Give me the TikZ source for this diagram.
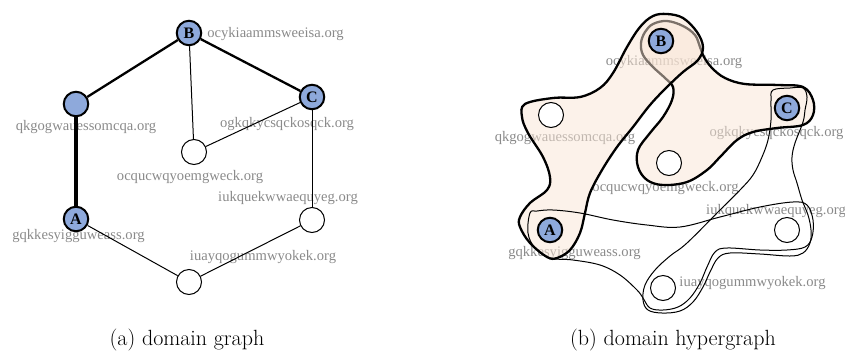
\documentclass[tikz,border=0pt]{standalone}
\usepackage{fontspec}
\newfontfamily\lblfont{Liberation Serif}
\definecolor{nodeblue}{HTML}{8EA9DB}
\definecolor{labelgray}{HTML}{8A8A8A}
\definecolor{hyperfill}{HTML}{F9E5D5}
\pgfdeclarelayer{lbls}
\pgfdeclarelayer{edges}
\pgfsetlayers{lbls,edges,main}
\begin{document}
\begin{tikzpicture}[x=1pt,y=-1pt,
  named/.style={circle,draw,line width=2pt,fill=nodeblue,minimum size=24.5pt,inner sep=0pt,font=\lblfont\bfseries\fontsize{16}{16}\selectfont},
  plain/.style={circle,draw,line width=1pt,fill=white,minimum size=25pt,inner sep=0pt},
  lbl/.style={text=labelgray,font=\lblfont\fontsize{14.6}{16}\selectfont,inner sep=0pt},
  heavy/.style={line width=2.3pt},
  heavier/.style={line width=3.5pt},
  light/.style={line width=1pt},
  hthick/.style={line width=2.3pt,fill=hyperfill,fill opacity=0.5,draw opacity=1},
  hthin/.style={line width=1pt},
  caption/.style={font=\fontsize{22}{26}\selectfont,inner sep=0pt}
]
\useasboundingbox (0,0) rectangle (845,351);

% ---------- (a) domain graph ----------
\node[named] (B) at (189,33) {B};
\node[named] (L) at (76,104) {};
\node[named] (C) at (312,97) {C};
\node[plain] (M) at (194,152) {};
\node[named] (A) at (76,219) {A};
\node[plain] (R) at (312,220) {};
\node[plain] (D) at (189,282) {};

\begin{pgfonlayer}{lbls}
\node[lbl] (lB) at (275.5,34) {ocykiaammsweeisa.org};
\node[lbl] (lL) at (86,127) {qkgogwauessomcqa.org};
\node[lbl] (lC) at (287,124) {ogkqkycsqckosqck.org};
\node[lbl] (lM) at (190,177) {ocqucwqyoemgweck.org};
\node[lbl] (lR) at (288,198) {iukquekwwaequyeg.org};
\node[lbl] (lA) at (78.5,236) {gqkkesyigguweass.org};
\node[lbl] (lD) at (263,257) {iuayqogummwyokek.org};
\end{pgfonlayer}

\begin{pgfonlayer}{edges}
\draw[heavy] (B) -- (L);
\draw[heavier] (L) -- (A);
\draw[heavy] (B) -- (C);
\draw[light] (B) -- (M);
\draw[light] (C) -- (M);
\draw[light] (C) -- (R);
\draw[light] (R) -- (D);
\draw[light] (A) -- (D);
\end{pgfonlayer}

% ---------- (b) domain hypergraph ----------
\node[named] (hB) at (661,41) {B};
\node[plain] (hL) at (551,115) {};
\node[named] (hC) at (787,108) {C};
\node[plain] (hM) at (669,163) {};
\node[named] (hA) at (550,230) {A};
\node[plain] (hR) at (787,230) {};
\node[plain] (hD) at (663,288) {};

\begin{pgfonlayer}{lbls}
\node[lbl] (hlB) at (674,62) {ocykiaammsweeisa.org};
\node[lbl] (hlL) at (565,138) {qkgogwauessomcqa.org};
\node[lbl] (hlC) at (776.5,133) {ogkqkycsqckosqck.org};
\node[lbl] (hlM) at (665.5,188) {ocqucwqyoemgweck.org};
\node[lbl] (hlR) at (776,211) {iukquekwwaequyeg.org};
\node[lbl] (hlA) at (574.5,253) {gqkkesyigguweass.org};
\node[lbl] (hlD) at (752.5,283) {iuayqogummwyokek.org};
\end{pgfonlayer}

\begin{pgfonlayer}{edges}
% hyperedge {B, C, M}
\draw[hthick] plot[smooth cycle, tension=0.6] coordinates {
 (673,87) (665,78) (653,67) (643,55) (641,43) (645,32) (653,24) (667,21)
 (683,26) (695,35) (700,47) (704,57) (712,68) (725,78) (745,84) (778,85)
 (803,87) (813,100) (813,115) (803,125) (777,128) (753,132) (737,140)
 (720,157) (707,170) (687,182) (663,185) (647,180) (638,167) (638,150)
 (650,133) (663,117) (672,100)};

% hyperedge {B, L, A}
\draw[hthick] plot[smooth cycle, tension=0.6] coordinates {
 (653,16) (667,14) (683,18) (697,32) (703,47) (698,60) (683,72) (667,87)
 (650,105) (633,127) (617,147) (602,170) (590,193) (585,213) (580,233)
 (570,250) (557,258) (547,257) (530,243) (520,227) (520,217) (530,203)
 (547,190) (550,177) (543,157) (528,133) (522,117) (525,104) (553,98)
 (580,97) (600,88) (613,73) (627,47) (640,27)};

% hyperedge {C, R, D}
\draw[hthin] plot[smooth cycle, tension=0.6] coordinates {
 (773,90) (790,88) (803,88) (807,97) (805,110) (803,122) (795,143) (792,157)
 (793,170) (797,183) (802,200) (808,215) (811,230) (810,243) (803,253)
 (790,256) (760,254) (730,253) (718,258) (710,272) (703,287) (693,302)
 (680,311) (662,313) (648,310) (643,300) (645,285) (655,270) (670,256)
 (687,243) (720,210) (740,190) (753,175) (762,157) (768,140) (771,120) (771,100)};

% hyperedge {A, R, D}
\draw[hthin] plot[smooth cycle, tension=0.6] coordinates {
 (530,213) (537,211) (553,210) (580,213) (613,220) (647,225) (680,227)
 (720,217) (760,207) (793,202) (807,205) (813,220) (812,237) (805,247)
 (787,250) (760,250) (727,248) (715,252) (707,267) (700,283) (690,298)
 (678,307) (663,310) (650,308) (643,298) (637,290) (620,275) (600,265)
 (573,260) (550,258) (535,248) (528,233)};
\end{pgfonlayer}

% captions
\node[caption] (capA) at (187,340) {(a) domain graph};
\node[caption] (capB) at (673,340) {(b) domain hypergraph};
\end{tikzpicture}
\end{document}
